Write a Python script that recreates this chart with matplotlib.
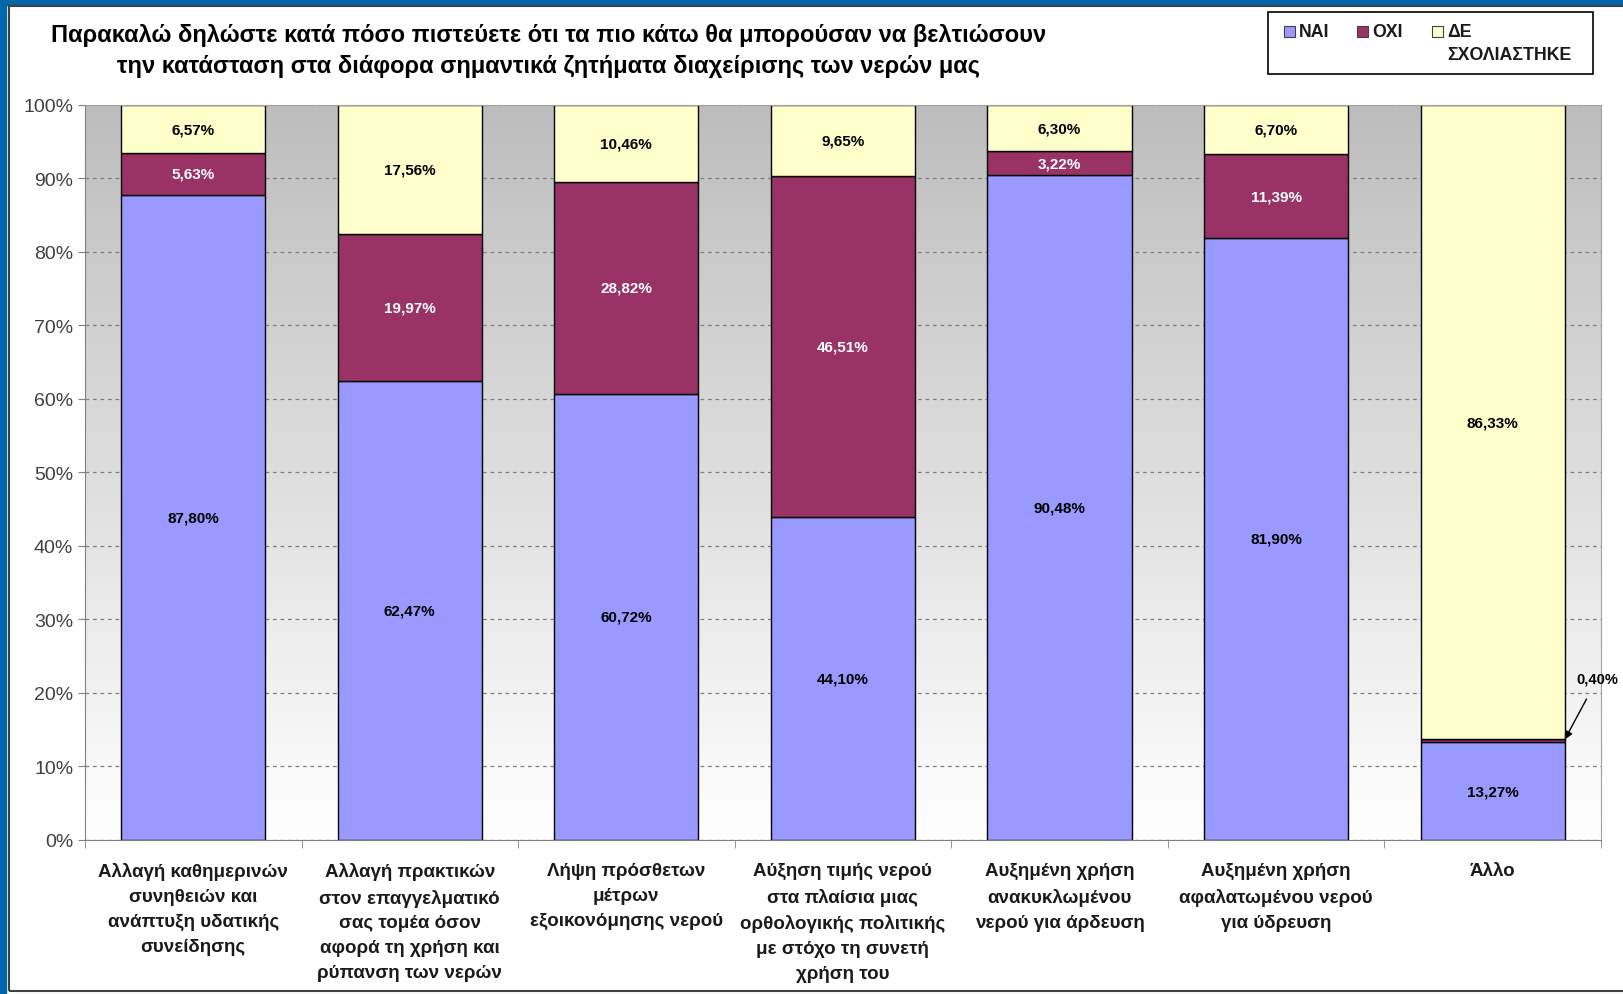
import numpy as np
import matplotlib
matplotlib.use("Agg")
import matplotlib.pyplot as plt
from matplotlib.colors import LinearSegmentedColormap
from matplotlib.patches import Rectangle

plt.rcParams['font.family'] = ['Liberation Sans', 'DejaVu Sans']

categories = [
    "Αλλαγή καθημερινών\nσυνηθειών και\nανάπτυξη υδατικής\nσυνείδησης",
    "Αλλαγή πρακτικών\nστον επαγγελματικό\nσας τομέα όσον\nαφορά τη χρήση και\nρύπανση των νερών",
    "Λήψη πρόσθετων\nμέτρων\nεξοικονόμησης νερού",
    "Αύξηση τιμής νερού\nστα πλαίσια μιας\nορθολογικής πολιτικής\nμε στόχο τη συνετή\nχρήση του",
    "Αυξημένη χρήση\nανακυκλωμένου\nνερού για άρδευση",
    "Αυξημένη χρήση\nαφαλατωμένου νερού\nγια ύδρευση",
    "Άλλο",
]
nai = [87.80, 62.47, 60.72, 44.10, 90.48, 81.90, 13.27]
oxi = [5.63, 19.97, 28.82, 46.51, 3.22, 11.39, 0.40]
de = [6.57, 17.56, 10.46, 9.65, 6.30, 6.70, 86.33]
series_names = ["ΝΑΙ", "ΟΧΙ", "ΔΕ\nΣΧΟΛΙΑΣΤΗΚΕ"]
colors = ["#9999FF", "#993366", "#FFFFCC"]
label_colors = ["black", "white", "black"]
title = ("Παρακαλώ δηλώστε κατά πόσο πιστεύετε ότι τα πιο κάτω θα μπορούσαν να βελτιώσουν\n"
         "την κατάσταση στα διάφορα σημαντικά ζητήματα διαχείρισης των νερών μας")

fig = plt.figure(figsize=(16.24, 9.95), dpi=100)
ax = fig.add_axes([0.0523, 0.1548, 0.9335, 0.7387])

# frame decorations
fig.patches.append(Rectangle((0, 0.994), 1, 0.006, transform=fig.transFigure, color="#0066AA", zorder=0))
fig.patches.append(Rectangle((0, 0), 0.0037, 1, transform=fig.transFigure, color="#0066AA", zorder=0))
fig.patches.append(Rectangle((0.0055, 0.003), 0.999, 0.9895, transform=fig.transFigure,
                             fill=False, edgecolor="#404040", lw=1.5, zorder=0))

x = np.arange(len(categories))
data = np.array([nai, oxi, de])
share = data / data.sum(axis=0) * 100

# gradient background
cmap = LinearSegmentedColormap.from_list("bg", ["#FFFFFF", "#BDBDBD"])
ax.imshow(np.linspace(0, 1, 256).reshape(-1, 1), cmap=cmap, origin="lower",
          extent=[-0.5, len(categories) - 0.5, 0, 100], aspect="auto", zorder=0)

ax.set_xlim(-0.5, len(categories) - 0.5)
ax.set_ylim(0, 100)
ax.yaxis.grid(True, ls=(0, (3, 3)), color="#808080", lw=0.9, zorder=1)
ax.set_axisbelow(True)

bottom = np.zeros(len(categories))
for i in range(3):
    ax.bar(x, share[i], bottom=bottom, width=0.665, color=colors[i], edgecolor="black",
           lw=1.0, label=series_names[i], zorder=2)
    for j in range(len(categories)):
        if data[i, j] >= 1:
            ax.text(x[j], bottom[j] + share[i, j] / 2, f"{data[i, j]:.2f}%".replace(".", ","),
                    ha="center", va="center", fontsize=11, fontweight="bold",
                    color=label_colors[i], zorder=3)
    bottom += share[i]

# small slice with arrow
j = 6
ax.annotate(f"{oxi[j]:.2f}%".replace(".", ","), xy=(x[j] + 0.333, nai[j] + oxi[j] / 2 + 0.2),
            xytext=(x[j] + 0.485, 22.0), ha="center", va="center", fontsize=10.5, fontweight="bold",
            arrowprops=dict(arrowstyle="-|>", color="black", lw=1.0, shrinkA=9, shrinkB=0,
                            mutation_scale=12),
            annotation_clip=False, zorder=4)

ax.set_yticks(np.arange(0, 101, 10))
ax.set_yticklabels([f"{v}%" for v in range(0, 101, 10)], fontsize=14, color="#404040")
ax.tick_params(axis="y", length=5, color="#808080")
ax.set_xticks(x)
ax.set_xticklabels(categories, fontsize=13.5, fontweight="bold", linespacing=1.6,
                   va="top", color="#1a1a1a")
ax.tick_params(axis="x", length=0, pad=16)
ax.set_xticks(np.arange(-0.5, len(categories), 1), minor=True)
ax.tick_params(axis="x", which="minor", length=6, color="#808080")

for s in ["top", "right"]:
    ax.spines[s].set_color("#A0A0A0")
for s in ["left", "bottom"]:
    ax.spines[s].set_color("#808080")

fig.text(0.338, 0.949, title, ha="center", va="center", fontsize=17, fontweight="bold",
         linespacing=1.45)

# legend drawn by hand so the two-line entry wraps like the original
W, H = 1624, 995
fig.patches.append(Rectangle((1268 / W, 1 - 75 / H), 325 / W, 62 / H, transform=fig.transFigure,
                             facecolor="white", edgecolor="black", lw=1.2, zorder=5))
leg_x = [1284, 1357, 1432]
for k in range(3):
    fig.patches.append(Rectangle((leg_x[k] / W, 1 - 38 / H), 11 / W, 11 / H,
                                 transform=fig.transFigure, facecolor=colors[k],
                                 edgecolor="#404040", lw=0.8, zorder=6))
    fig.text((leg_x[k] + 15) / W, 1 - 24 / H, series_names[k], ha="left", va="top",
             fontsize=12.8, fontweight="bold", linespacing=1.5, zorder=6, color="#1a1a1a")

fig.savefig("out.png", dpi=100)
